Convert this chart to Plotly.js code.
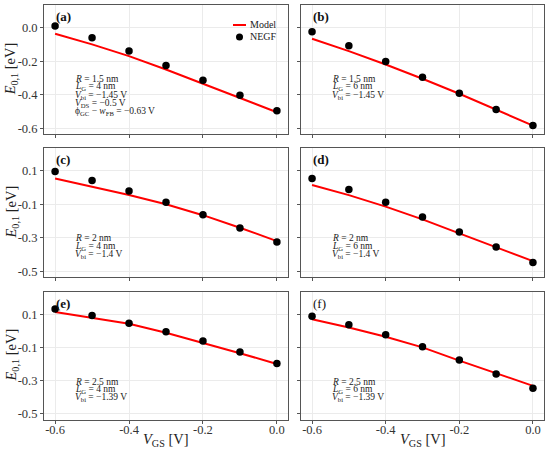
<!DOCTYPE html>
<html>
<head>
<meta charset="utf-8">
<script src="https://cdn.plot.ly/plotly-3.0.1.min.js"></script>
<style>html,body{margin:0;padding:0;background:#fff;}#chart{width:550px;height:454px;}</style>
</head>
<body>
<div id="chart"></div>
<script>
// ---- data ----
var vgs = [-0.6, -0.5, -0.4, -0.3, -0.2, -0.1, 0.0];

var negfA = [0.010, -0.060, -0.140, -0.226, -0.314, -0.404, -0.496];
var modelA = [-0.036, -0.100, -0.170, -0.250, -0.335, -0.420, -0.505];
var negfB = [-0.024, -0.108, -0.202, -0.296, -0.392, -0.488, -0.584];
var modelB = [-0.066, -0.140, -0.220, -0.305, -0.395, -0.490, -0.585];
var negfC = [0.096, 0.042, -0.020, -0.088, -0.162, -0.242, -0.326];
var modelC = [0.054, 0.005, -0.044, -0.100, -0.165, -0.240, -0.320];
var negfD = [0.054, -0.012, -0.088, -0.176, -0.266, -0.356, -0.448];
var modelD = [0.016, -0.045, -0.114, -0.190, -0.274, -0.356, -0.440];
var negfE = [0.132, 0.092, 0.046, -0.006, -0.062, -0.128, -0.198];
var modelE = [0.114, 0.080, 0.042, -0.012, -0.072, -0.135, -0.200];
var negfF = [0.088, 0.036, -0.024, -0.096, -0.176, -0.260, -0.346];
var modelF = [0.070, 0.020, -0.036, -0.100, -0.180, -0.255, -0.332];

var xTickVals = [-0.6, -0.4, -0.2, 0.0];
var xTickText = ['-0.6', '-0.4', '-0.2', '0.0'];
var yTickVals1 = [0.0, -0.2, -0.4, -0.6];
var yTickText1 = ['0.0', '-0.2', '-0.4', '-0.6'];
var yTickVals23 = [0.1, -0.1, -0.3, -0.5];
var yTickText23 = ['0.1', '-0.1', '-0.3', '-0.5'];

var panelLabels = ['(a)', '(b)', '(c)', '(d)', '(e)', '(f)'];
var panelInfo = [
  ['<i>R</i> = 1.5 nm', '<i>L</i><sub>G</sub> = 4 nm', '<i>V</i><sub>bi</sub> = \u22121.45 V',
   '<i>V</i><sub>DS</sub> = \u22120.5 V', '\u03d5<sub>GC</sub> \u2212 <i>w</i><sub>FB</sub> = \u22120.63 V'],
  ['<i>R</i> = 1.5 nm', '<i>L</i><sub>G</sub> = 6 nm', '<i>V</i><sub>bi</sub> = \u22121.45 V'],
  ['<i>R</i> = 2 nm', '<i>L</i><sub>G</sub> = 4 nm', '<i>V</i><sub>bi</sub> = \u22121.4 V'],
  ['<i>R</i> = 2 nm', '<i>L</i><sub>G</sub> = 6 nm', '<i>V</i><sub>bi</sub> = \u22121.4 V'],
  ['<i>R</i> = 2.5 nm', '<i>L</i><sub>G</sub> = 4 nm', '<i>V</i><sub>bi</sub> = \u22121.39 V'],
  ['<i>R</i> = 2.5 nm', '<i>L</i><sub>G</sub> = 6 nm', '<i>V</i><sub>bi</sub> = \u22121.39 V']
];
var legendNames = ['Model', 'NEGF'];

// ---- layout geometry (pixels) ----
var W = 550, H = 454;
var colPx = [[44, 288], [301, 544]];
var rowPx = [[4.7, 134], [148, 277], [291.5, 419.5]];
var yRanges = [[-0.635, 0.137], [-0.535, 0.237], [-0.535, 0.237]];
var xRange = [-0.63, 0.03];
var FONT = "'Liberation Serif', 'Times New Roman', serif";
var RED = '#ff0000';

var negf = [negfA, negfB, negfC, negfD, negfE, negfF];
var model = [modelA, modelB, modelC, modelD, modelE, modelF];

var traces = [];
var layout = {
  width: W, height: H,
  margin: {l: 0, r: 0, t: 0, b: 0},
  paper_bgcolor: '#fff', plot_bgcolor: '#fff',
  showlegend: false,
  font: {family: FONT, color: '#222'},
  annotations: [], shapes: []
};

function px(x) { return x / W; }
function py(y) { return 1 - y / H; }

for (var i = 0; i < 6; i++) {
  var r = Math.floor(i / 2), c = i % 2;
  var n = i + 1;
  var xa = 'x' + (n === 1 ? '' : n), ya = 'y' + (n === 1 ? '' : n);
  var xaxName = 'xaxis' + (n === 1 ? '' : n), yaxName = 'yaxis' + (n === 1 ? '' : n);
  var common = {
    showline: true, mirror: true, linecolor: '#555', linewidth: 1,
    showgrid: true, gridcolor: '#ebebeb', gridwidth: 1,
    ticks: 'outside', ticklen: 3, tickwidth: 1, tickcolor: '#555',
    zeroline: false, fixedrange: true,
    tickfont: {family: FONT, size: 12.5, color: '#333'}
  };
  layout[xaxName] = Object.assign({}, common, {
    domain: [px(colPx[c][0]), px(colPx[c][1])],
    anchor: ya, range: xRange,
    tickmode: 'array', tickvals: xTickVals, ticktext: xTickText,
    showticklabels: r === 2, ticklabelstandoff: -5
  });
  layout[yaxName] = Object.assign({}, common, {
    domain: [py(rowPx[r][1]), py(rowPx[r][0])],
    anchor: xa, range: yRanges[r],
    tickmode: 'array',
    tickvals: r === 0 ? yTickVals1 : yTickVals23,
    ticktext: r === 0 ? yTickText1 : yTickText23,
    showticklabels: c === 0
  });

  traces.push({
    x: vgs, y: model[i], xaxis: xa, yaxis: ya, type: 'scatter', mode: 'lines',
    name: legendNames[0], line: {color: RED, width: 2}, hoverinfo: 'skip'
  });
  traces.push({
    x: vgs, y: negf[i], xaxis: xa, yaxis: ya, type: 'scatter', mode: 'markers',
    name: legendNames[1], marker: {color: '#000', size: 7.5}, hoverinfo: 'skip'
  });

  var pLeft = colPx[c][0], pTop = rowPx[r][0];
  // panel label
  layout.annotations.push({
    xref: 'paper', yref: 'paper', x: px(pLeft + 10), y: py(pTop + 11.5),
    xanchor: 'left', yanchor: 'middle', showarrow: false,
    text: i === 5 ? panelLabels[i] : '<b>' + panelLabels[i] + '</b>',
    font: {family: FONT, size: 13, color: '#111'}
  });
  // info text
  var startY = r === 0 ? pTop + 74 : pTop + 90;
  for (var k = 0; k < panelInfo[i].length; k++) {
    layout.annotations.push({
      xref: 'paper', yref: 'paper', x: px(pLeft + 29), y: py(startY + k * 8.2),
      xanchor: 'left', yanchor: 'middle', showarrow: false,
      text: panelInfo[i][k],
      font: {family: FONT, size: 9.5, color: '#222'}
    });
  }
  // y axis title (left column)
  if (c === 0) {
    layout.annotations.push({
      xref: 'paper', yref: 'paper', x: px(11), y: py((rowPx[r][0] + rowPx[r][1]) / 2),
      xanchor: 'center', yanchor: 'middle', showarrow: false, textangle: -90,
      text: '<i>E</i><sub>0,1</sub> [eV]',
      font: {family: FONT, size: 14.5, color: '#222'}
    });
  }
  // x axis title (bottom row)
  if (r === 2) {
    layout.annotations.push({
      xref: 'paper', yref: 'paper', x: px((colPx[c][0] + colPx[c][1]) / 2), y: py(440),
      xanchor: 'center', yanchor: 'middle', showarrow: false,
      text: '<i>V</i><sub>GS</sub> [V]',
      font: {family: FONT, size: 14.5, color: '#222'}
    });
  }
}

// manual legend in panel (a)
layout.shapes.push({
  type: 'line', xref: 'paper', yref: 'paper',
  x0: px(233), x1: px(246), y0: py(25), y1: py(25),
  line: {color: RED, width: 2}
});
layout.shapes.push({
  type: 'circle', xref: 'paper', yref: 'paper',
  x0: px(236), x1: px(243), y0: py(33.5), y1: py(40.5),
  fillcolor: '#000', line: {color: '#000', width: 0}
});
layout.annotations.push({
  xref: 'paper', yref: 'paper', x: px(248), y: py(25), xanchor: 'left', yanchor: 'middle',
  showarrow: false, text: legendNames[0], font: {family: FONT, size: 10, color: '#222'}
});
layout.annotations.push({
  xref: 'paper', yref: 'paper', x: px(248), y: py(37), xanchor: 'left', yanchor: 'middle',
  showarrow: false, text: legendNames[1], font: {family: FONT, size: 10, color: '#222'}
});

Plotly.newPlot('chart', traces, layout, {displayModeBar: false, staticPlot: true});
</script>
</body>
</html>
